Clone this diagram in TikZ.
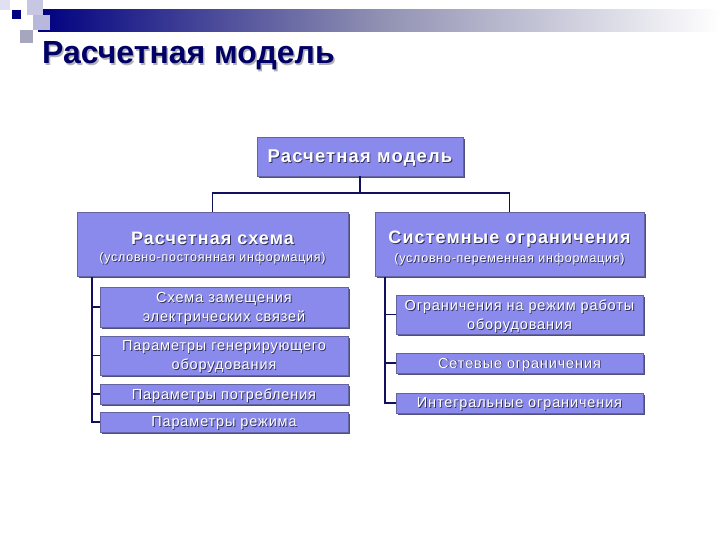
\documentclass[tikz,border=0pt]{standalone}
\usepackage{fontspec}
\setmainfont{Liberation Sans}[LetterSpace=6]
\newfontfamily\titlefont{Liberation Sans}
\usetikzlibrary{shadows}
\definecolor{navy}{HTML}{000080}
\definecolor{connc}{HTML}{10105E}
\definecolor{boxfill}{HTML}{8A8AEC}
\definecolor{boxedge}{HTML}{6464A0}
\definecolor{boxshade}{HTML}{50507E}
\definecolor{shadowc}{HTML}{30305A}
\newcommand\shtxt[1]{\makebox[0pt][l]{\raisebox{-0.9pt}{\hspace{0.9pt}\color{shadowc}#1}}#1}
\newcommand\hdfont{\fontsize{18}{20}\selectfont\bfseries}
\newcommand\subfont{\fontsize{12.5}{20}\selectfont}
\newcommand\itfont{\fontsize{14.5}{19}\selectfont}
\begin{document}
\begin{tikzpicture}[x=1pt,y=-1pt,
  box/.style={draw=boxedge, fill=boxfill, line width=0.8pt, inner sep=0pt,
    text=white, align=center, text depth=0pt,
    general shadow={shadow xshift=1.6pt, shadow yshift=-1.6pt, fill=boxshade}},
  conn/.style={draw=connc, line width=1.8pt}]
\useasboundingbox (0,0) rectangle (720,540);
% header decoration
\shade[left color=navy, right color=white, middle color=navy!45!gray!60] (38,10) rectangle (720,32);
\fill[navy!12] (0,0) rectangle (10,10);
\fill[navy!22!white] (27,0) rectangle (43,15);
\fill[navy!28!white] (33,15) rectangle (50,30);
\fill[navy!40!gray!50] (20,30) rectangle (33,43);
\fill[navy] (12,10) rectangle (21,19);
% title
\node[anchor=base west, inner sep=0pt, text=navy!80!black, font=\titlefont\fontsize{32}{34}\selectfont\bfseries] (title) at (42,64)
  {\makebox[0pt][l]{\raisebox{-1.5pt}{\hspace{1.5pt}\color{gray!60}Расчетная модель}}Расчетная модель};
% boxes
\node[box, minimum width=206pt, minimum height=39pt] (top) at (360,156.5)
  {\fontsize{18.5}{19}\selectfont\bfseries\shtxt{Расчетная модель}};
\node[box, minimum width=271pt, minimum height=64pt] (left) at (212.5,244)
  {\hdfont\rule{0pt}{18pt}\shtxt{Расчетная схема}\\[5pt]\subfont\shtxt{(условно-постоянная информация)}};
\node[box, minimum width=269pt, minimum height=64pt] (right) at (509.5,244)
  {\hdfont\rule{0pt}{18pt}\shtxt{Системные ограничения}\\[5pt]\subfont\shtxt{(условно-переменная информация)}};
\node[box, minimum width=248pt, minimum height=40pt, font=\itfont] (a1) at (224,307)
  {\shtxt{Схема замещения}\\\shtxt{электрических связей}};
\node[box, minimum width=248pt, minimum height=39pt, font=\itfont] (a2) at (224,355.5)
  {\shtxt{Параметры генерирующего}\\\shtxt{оборудования}};
\node[box, minimum width=248pt, minimum height=20pt, font=\itfont] (a3) at (224,394)
  {\shtxt{Параметры потребления}};
\node[box, minimum width=248pt, minimum height=20pt, font=\itfont] (a4) at (224,422)
  {\shtxt{Параметры режима}};
\node[box, minimum width=247pt, minimum height=39pt, font=\itfont] (b1) at (519.5,314.5)
  {\shtxt{Ограничения на режим работы}\\\shtxt{оборудования}};
\node[box, minimum width=247pt, minimum height=20pt, font=\itfont] (b2) at (519.5,363)
  {\shtxt{Сетевые ограничения}};
\node[box, minimum width=247pt, minimum height=20pt, font=\itfont] (b3) at (519.5,403)
  {\shtxt{Интегральные ограничения}};
% connectors
\coordinate (j) at (360,193);
\coordinate (ls) at (92,277);
\coordinate (rs) at (385,277);
\draw[conn] (top.south) -- (j);
\draw[conn] (left.north) -- (left.north |- j) -- (right.north |- j) -- (right.north);
\draw[conn] (ls) -- (ls |- a4.west) -- (a4.west);
\draw[conn] (ls |- a1.west) -- (a1.west);
\draw[conn] (ls |- a2.west) -- (a2.west);
\draw[conn] (ls |- a3.west) -- (a3.west);
\draw[conn] (rs) -- (rs |- b3.west) -- (b3.west);
\draw[conn] (rs |- b1.west) -- (b1.west);
\draw[conn] (rs |- b2.west) -- (b2.west);
\end{tikzpicture}
\end{document}
